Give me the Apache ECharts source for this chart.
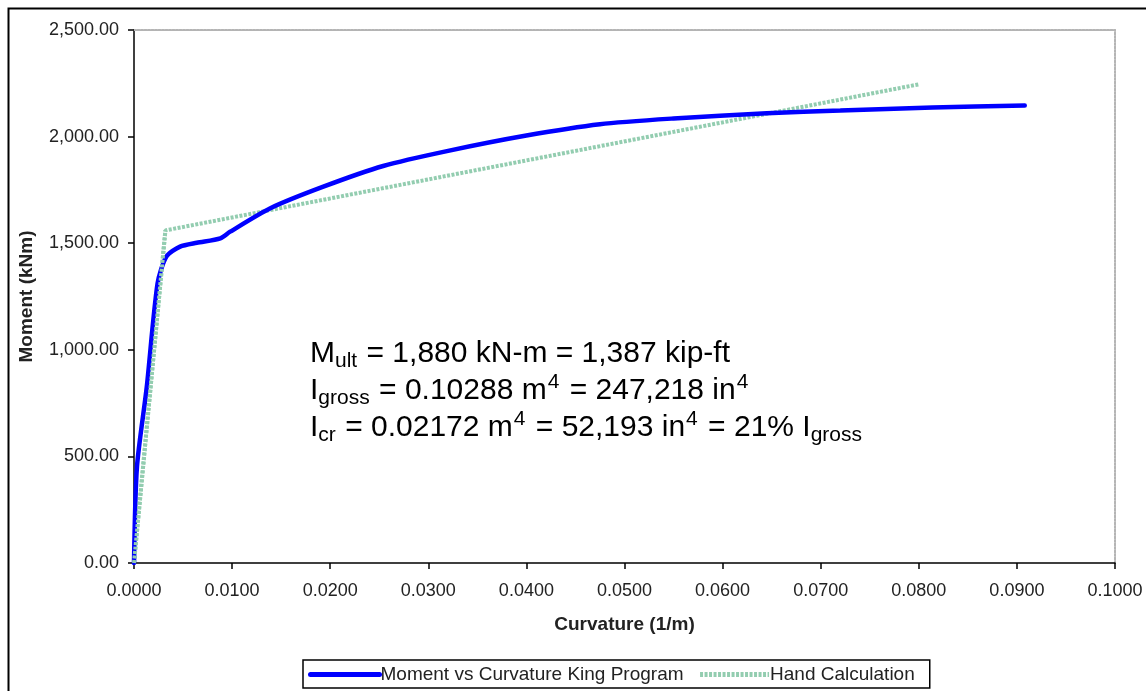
<!DOCTYPE html>
<html>
<head>
<meta charset="utf-8">
<script src="https://cdn.jsdelivr.net/npm/echarts@6/dist/echarts.min.js"></script>
<style>
	html, body { margin: 0; padding: 0; background: #fff; }
	#chartDom { width: 1146px; height: 691px; }
</style>
</head>
<body>
<div id="chartDom"></div>
<script>
// curvature (1/m) and moment (kNm)
var kingCurvature = [0, 0.0003, 0.0013, 0.0024, 0.0033, 0.0047, 0.0064, 0.0088, 0.0098, 0.0139, 0.0193, 0.0254, 0.0319, 0.0400, 0.0475, 0.0550, 0.0645, 0.0720, 0.0814, 0.0908];
var kingMoment = [0, 450, 825, 1310, 1437, 1484, 1502, 1523, 1554, 1664, 1765, 1862, 1932, 2005, 2058, 2085, 2110, 2122, 2136, 2146];
var handCurvature = [0, 0.0032, 0.0801];
var handMoment = [0, 1560, 2246];
var yTicks = [0, 500, 1000, 1500, 2000, 2500];
var xTicks = [0, 0.01, 0.02, 0.03, 0.04, 0.05, 0.06, 0.07, 0.08, 0.09, 0.1];

chart();

function chart() {
	var myChart = echarts.init(document.getElementById("chartDom"));
	var font = 'Liberation Sans, Arial, sans-serif';
	var green = '#93cdb0';

	function pairs(xs, ys) {
		return xs.map(function(x, i) {
			return [x, ys[i]];
		});
	}

	var option = {
		animation: false,
		backgroundColor: '#fff',
		textStyle: {
			fontFamily: font
		},
		graphic: [{
			type: 'rect',
			left: 6,
			top: 6,
			shape: { width: 1160, height: 700 },
			style: { fill: 'none', stroke: '#000', lineWidth: 2 },
			silent: true
		}, {
			type: 'text',
			left: 310,
			top: 335,
			style: {
				text: '{b|M}{s|ult}{b| = 1,880 kN-m = 1,387 kip-ft}\n{b|I}{s|gross}{b| = 0.10288 m}{p|4}{b| = 247,218 in}{p|4}\n{b|I}{s|cr}{b| = 0.02172 m}{p|4}{b| = 52,193 in}{p|4}{b| = 21% I}{s|gross}',
				lineHeight: 37,
				fill: '#000',
				rich: {
					b: { fontSize: 30, fontFamily: font, fill: '#000', lineHeight: 37 },
					s: { fontSize: 21, fontFamily: font, fill: '#000', verticalAlign: 'bottom', padding: [12, 1, 0, 0], lineHeight: 37 },
					p: { fontSize: 21, fontFamily: font, fill: '#000', verticalAlign: 'top', padding: [0, 2, 14, 1], lineHeight: 37 }
				}
			}
		}],
		legend: {
			left: 303,
			top: 660,
			padding: [5, 15, 4, 5],
			itemGap: 14,
			itemWidth: 69,
			itemHeight: 12,
			borderColor: '#000',
			borderWidth: 1.5,
			itemStyle: { opacity: 0 },
			lineStyle: { width: 5 },
			textStyle: {
				color: '#222',
				fontSize: 19,
				fontFamily: font,
				padding: [0, 0, 0, -4]
			},
			data: ['Moment vs Curvature King Program', 'Hand Calculation']
		},
		grid: {
			left: 134,
			right: 31,
			top: 30,
			bottom: 128
		},
		xAxis: [{
			type: 'value',
			min: 0,
			max: 0.1,
			interval: 0.01,
			name: 'Curvature (1/m)',
			nameLocation: 'middle',
			nameGap: 52,
			nameTextStyle: {
				color: '#222',
				fontSize: 19,
				fontWeight: 'bold',
				fontFamily: font
			},
			axisLine: {
				lineStyle: { color: '#000', width: 1.5 }
			},
			axisTick: {
				length: 6,
				lineStyle: { color: '#000', width: 1.5 }
			},
			axisLabel: {
				color: '#222',
				fontSize: 18,
				margin: 19,
				formatter: function(v) {
					return v.toFixed(4);
				}
			},
			splitLine: { show: false }
		}, {
			type: 'value',
			position: 'top',
			min: 0,
			max: 0.1,
			axisLine: {
				show: true,
				onZero: false,
				lineStyle: { color: '#b4b4b4', width: 2, type: [2, 1.5] }
			},
			axisTick: { show: false },
			axisLabel: { show: false },
			splitLine: { show: false }
		}],
		yAxis: [{
			type: 'value',
			min: 0,
			max: 2500,
			interval: 500,
			name: 'Moment (kNm)',
			nameLocation: 'middle',
			nameGap: 98,
			nameTextStyle: {
				color: '#222',
				fontSize: 19,
				fontWeight: 'bold',
				fontFamily: font
			},
			axisLine: {
				show: true,
				lineStyle: { color: '#000', width: 1.5 }
			},
			axisTick: {
				show: true,
				length: 6,
				lineStyle: { color: '#000', width: 1.5 }
			},
			axisLabel: {
				color: '#222',
				fontSize: 18,
				margin: 15,
				formatter: function(v) {
					return v.toLocaleString('en-US', { minimumFractionDigits: 2, maximumFractionDigits: 2 });
				}
			},
			splitLine: { show: false }
		}, {
			type: 'value',
			position: 'right',
			min: 0,
			max: 2500,
			axisLine: {
				show: true,
				onZero: false,
				lineStyle: { color: '#b4b4b4', width: 2, type: [2, 1.5] }
			},
			axisTick: { show: false },
			axisLabel: { show: false },
			splitLine: { show: false }
		}],
		series: [{
			name: 'Hand Calculation',
			type: 'line',
			symbol: 'none',
			data: pairs(handCurvature, handMoment),
			itemStyle: { color: green },
			lineStyle: { color: green, width: 4, type: [3, 1.5] },
			z: 2
		}, {
			name: 'Moment vs Curvature King Program',
			type: 'line',
			symbol: 'none',
			smooth: 0.25,
			data: pairs(kingCurvature, kingMoment),
			itemStyle: { color: '#0000ff' },
			lineStyle: { color: '#0000ff', width: 4.5, cap: 'round' },
			z: 3
		}, {
			// green line sits on top of the blue near the origin
			type: 'line',
			symbol: 'none',
			silent: true,
			data: pairs(handCurvature.slice(0, 2), handMoment.slice(0, 2)),
			lineStyle: { color: green, width: 4, type: [3, 1.5] },
			z: 4
		}]
	};
	myChart.setOption(option, true);
}
</script>
</body>
</html>
